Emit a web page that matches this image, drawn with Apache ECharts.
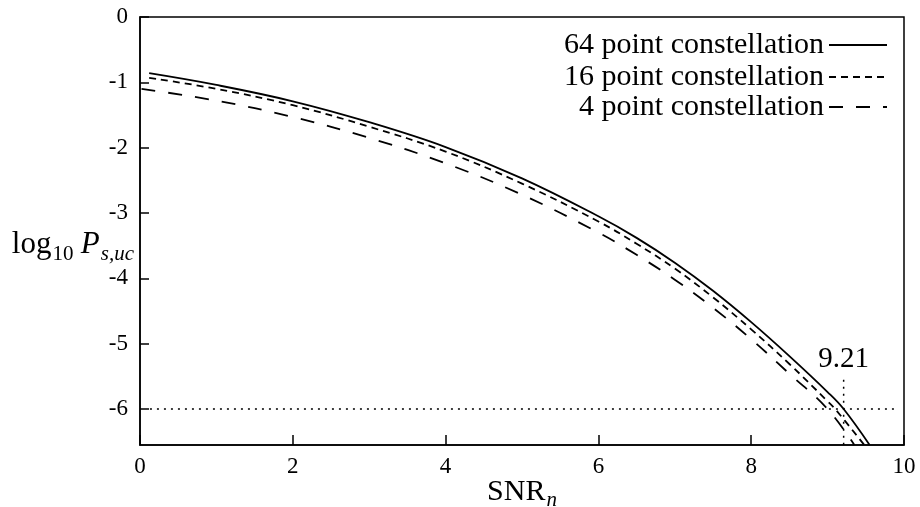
<!DOCTYPE html>
<html>
<head>
<meta charset="utf-8">
<title>log10 Ps,uc vs SNRn</title>
<script src="https://cdn.jsdelivr.net/npm/echarts@6/dist/echarts.min.js"></script>
<style>
  html, body { margin: 0; padding: 0; background: #fff; }
  #chart { width: 920px; height: 507px; }
</style>
</head>
<body>
<div id="chart"></div>
<script>
    // 读图得到的曲线点 (SNR_n, log10 Ps,uc)
    const snr64 = [0.12, 1, 2, 3, 4, 5, 6, 6.5, 7, 7.5, 8, 8.5, 9, 9.21, 9.55];
    const val64 = [-0.86, -1.04, -1.29, -1.61, -1.99, -2.47, -3.05, -3.38, -3.76, -4.19, -4.67, -5.19, -5.74, -6.00, -6.55];

    const snr16 = [0.12, 1, 2, 3, 4, 5, 6, 6.5, 7, 7.5, 8, 8.5, 9, 9.1, 9.48];
    const val16 = [-0.93, -1.10, -1.35, -1.68, -2.06, -2.55, -3.13, -3.47, -3.85, -4.29, -4.78, -5.31, -5.88, -6.00, -6.55];

    const snr4 = [0.02, 1, 2, 3, 4, 5, 6, 6.5, 7, 7.5, 8, 8.5, 9, 9.35];
    const val4 = [-1.10, -1.28, -1.53, -1.85, -2.24, -2.72, -3.30, -3.64, -4.02, -4.45, -4.93, -5.46, -6.00, -6.55];

    const seriesNames = ['64 point constellation', '16 point constellation', '4 point constellation'];

    // 参考线 log10 Ps,uc = -6 与 SNR = 9.21
    const hLineX = [0.13, 9.87];
    const hLineY = -6;
    const vLineX = 9.21;
    const vLineY = [-5.55, -6.55];
    const markText = '9.21';

    const yTicks = [0, -1, -2, -3, -4, -5, -6];

    const serif = '"Liberation Serif", "DejaVu Serif", serif';

    function zip(xs, ys) {
        return xs.map((x, i) => [x, ys[i]]);
    }

    const chart = echarts.init(document.getElementById('chart'));

    // 图例右对齐，每条一行
    const legendTops = [30, 62, 92];
    const legends = seriesNames.map((name, i) => ({
        data: [name],
        right: 32,
        top: legendTops[i],
        padding: 0,
        align: 'right',
        itemWidth: 58,
        itemHeight: 14,
        itemGap: 0,
        selectedMode: false,
        itemStyle: { opacity: 0 },
        textStyle: {
            fontFamily: serif,
            fontSize: 30,
            color: '#000'
        }
    }));

    const option = {
        backgroundColor: '#fff',
        animation: false,
        grid: {
            left: 140,
            right: 16,
            top: 17,
            bottom: 62,
            outerBoundsMode: 'none',
            containLabel: false,
            show: true,
            borderColor: '#000',
            borderWidth: 1.5
        },
        legend: legends,
        xAxis: {
            type: 'value',
            min: 0,
            max: 10,
            interval: 2,
            name: '{a|SNR}{b|n}',
            nameLocation: 'middle',
            nameGap: 32,
            nameMoveOverlap: false,
            nameTextStyle: {
                rich: {
                    a: { fontFamily: serif, fontSize: 30, color: '#000', verticalAlign: 'top', lineHeight: 30 },
                    b: { fontFamily: serif, fontSize: 21, fontStyle: 'italic', color: '#000', verticalAlign: 'top', padding: [13, 0, 0, 1] }
                }
            },
            axisLine: { onZero: false, lineStyle: { color: '#000', width: 1.5 } },
            axisTick: { inside: true, length: 10, lineStyle: { color: '#000', width: 1.5 } },
            axisLabel: { fontFamily: serif, fontSize: 23, color: '#000', margin: 10 },
            splitLine: { show: false }
        },
        yAxis: {
            type: 'value',
            min: -6.55,
            max: 0,
            name: '{a|log}{b|10} {c|P}{d|s,uc}',
            nameLocation: 'middle',
            nameRotate: 0,
            nameGap: 6,
            nameMoveOverlap: false,
            nameTextStyle: {
                padding: [32, 0, 0, 0],
                rich: {
                    a: { fontFamily: serif, fontSize: 31, color: '#000', verticalAlign: 'top', lineHeight: 31 },
                    b: { fontFamily: serif, fontSize: 21, color: '#000', verticalAlign: 'top', padding: [15, 4, 0, 1] },
                    c: { fontFamily: serif, fontSize: 31, fontStyle: 'italic', color: '#000', verticalAlign: 'top', lineHeight: 31 },
                    d: { fontFamily: serif, fontSize: 21, fontStyle: 'italic', color: '#000', verticalAlign: 'top', padding: [15, 0, 0, 1] }
                }
            },
            axisLine: { show: true, onZero: false, lineStyle: { color: '#000', width: 1.5 } },
            axisTick: { show: true, inside: true, length: 9, customValues: yTicks, lineStyle: { color: '#000', width: 1.5 } },
            axisLabel: { fontFamily: serif, fontSize: 23, color: '#000', margin: 12, customValues: yTicks },
            splitLine: { show: false }
        },
        series: [
            {
                name: seriesNames[0],
                type: 'line',
                data: zip(snr64, val64),
                smooth: 0.4,
                symbol: 'none',
                color: '#000',
                lineStyle: { color: '#000', width: 1.8, type: 'solid' }
            },
            {
                name: seriesNames[1],
                type: 'line',
                data: zip(snr16, val16),
                smooth: 0.4,
                symbol: 'none',
                color: '#000',
                lineStyle: { color: '#000', width: 1.8, type: [7, 5] }
            },
            {
                name: seriesNames[2],
                type: 'line',
                data: zip(snr4, val4),
                smooth: 0.4,
                symbol: 'none',
                color: '#000',
                lineStyle: { color: '#000', width: 1.8, type: [14, 13] }
            },
            {
                name: 'h-ref',
                type: 'line',
                data: hLineX.map(x => [x, hLineY]),
                symbol: 'none',
                silent: true,
                lineStyle: { color: '#000', width: 1.5, type: [2, 5] }
            },
            {
                name: 'v-ref',
                type: 'line',
                data: vLineY.map(y => [vLineX, y]),
                symbol: 'none',
                silent: true,
                lineStyle: { color: '#000', width: 1.5, type: [2, 5] }
            },
            {
                name: 'v-label',
                type: 'scatter',
                data: [[vLineX, vLineY[0]]],
                symbolSize: 0,
                silent: true,
                itemStyle: { opacity: 1 },
                label: {
                    show: true,
                    position: 'top',
                    distance: 6,
                    formatter: markText,
                    fontFamily: serif,
                    fontSize: 29,
                    color: '#000',
                    opacity: 1
                }
            }
        ]
    };

    chart.setOption(option);
</script>
</body>
</html>
